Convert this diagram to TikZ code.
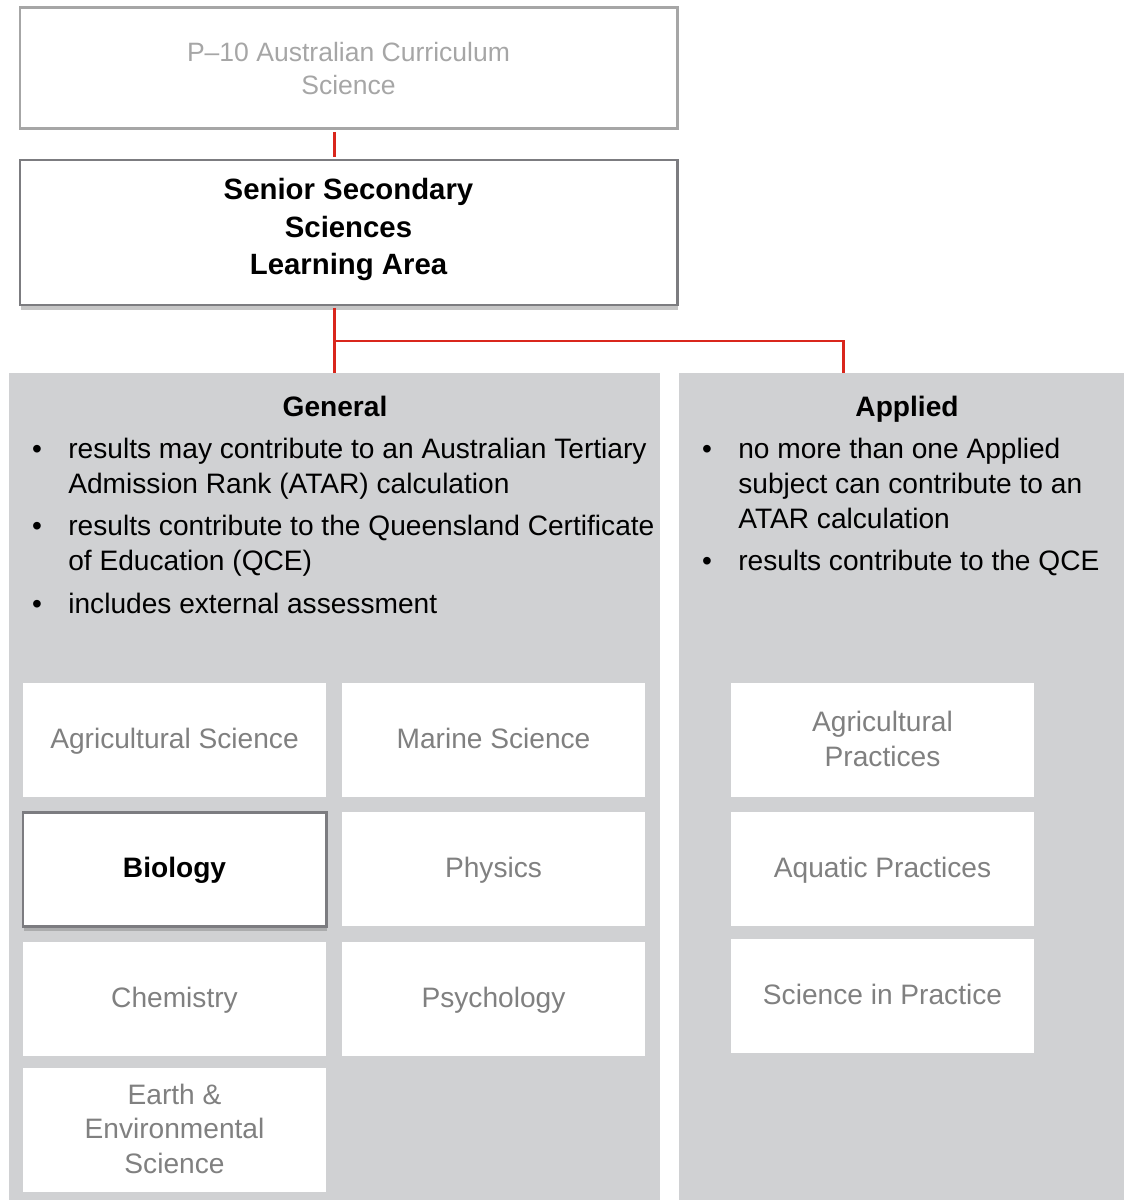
\documentclass[tikz,border=0pt]{standalone}
\usepackage{fontspec}
\setmainfont{Liberation Sans}
\usetikzlibrary{shadows}
\definecolor{qred}{RGB}{217,38,28}
\definecolor{panelgrey}{RGB}{208,209,211}
\definecolor{lightline}{RGB}{166,166,166}
\definecolor{darkline}{RGB}{124,124,128}
\definecolor{subjtext}{RGB}{128,128,128}
\newcommand{\bodyfont}{\fontsize{16}{19.8}\selectfont}
\begin{document}
\begin{tikzpicture}[
		every node/.style={font=\bodyfont, inner sep=0pt},
		box/.style={rectangle, minimum width=13.14cm, align=center, line width=1.7pt},
		panel/.style={rectangle, fill=panelgrey, minimum height=16.54cm, anchor=north},
		subject/.style={rectangle, fill=white, minimum width=6.06cm, minimum height=2.28cm, text=subjtext, align=center, text depth=0.3ex},
		item/.style={anchor=base west, align=left},
		heading/.style={anchor=base, font=\bfseries\bodyfont},
		link/.style={qred, line width=1.7pt},
		shade/.style={drop shadow={shadow xshift=0.4pt, shadow yshift=-3pt, opacity=0.45}}]
			\useasboundingbox (0,0) rectangle (22.48,-24);
			% the two columns
			\node[panel, minimum width=13.02cm] (general) at (6.69,-7.46) {};
			\node[panel, minimum width=8.90cm] (applied) at (18.03,-7.46) {};
			% top of the chart
			\node[box, draw=lightline, text=lightline, minimum height=2.42cm, font=\fontsize{15.1}{19.3}\selectfont] (p10) at (6.97,-1.37) {P–10 Australian Curriculum\\Science};
			\node[box, draw=darkline, fill=white, shade, minimum height=2.9cm, text depth=0.24cm, font=\bfseries\fontsize{16.7}{21.2}\selectfont] (senior) at (6.97,-4.65) {Senior Secondary\\Sciences\\Learning Area};
			\coordinate (split) at (6.69,-6.82);
			\coordinate (branch) at (16.86,-6.82);
			\draw[link, shorten <=0.85pt, shorten >=0.85pt] (p10.south -| general.north) -- (senior.north -| general.north);
			\draw[link, shorten <=0.85pt] (senior.south -| general.north) -- (general.north);
			\draw[link] (split) -| (branch |- applied.north);
			% General (base is the last line)
			\node[heading] (genhead) at (6.70,-8.34) {General};
			\node[item] (g1) at (1.36,-9.86) {results may contribute to an Australian Tertiary\\Admission Rank (ATAR) calculation};
			\node[item] (g2) at (1.36,-11.40) {results contribute to the Queensland Certificate\\of Education (QCE)};
			\node[item] (g3) at (1.36,-12.26) {includes external assessment};
			\foreach \y [count=\i] in {-9.16,-10.70,-12.26}
				\node[anchor=base] (gdot\i) at (0.74,\y) {•};
			% Applied
			\node[heading] (apphead) at (18.14,-8.34) {Applied};
			\node[item] (a1) at (14.76,-10.56) {no more than one Applied\\subject can contribute to an\\ATAR calculation};
			\node[item] (a2) at (14.76,-11.40) {results contribute to the QCE};
			\foreach \y [count=\i] in {-9.16,-11.40}
				\node[anchor=base] (adot\i) at (14.14,\y) {•};
			% subjects
			\node[subject] (agsci) at (3.49,-14.80) {Agricultural Science};
			\node[subject] (marine) at (9.87,-14.80) {Marine Science};
			\node[subject, draw=darkline, line width=1.7pt, shade, text=black, font=\bfseries\bodyfont] (biology) at (3.49,-17.38) {Biology};
			\node[subject] (physics) at (9.87,-17.38) {Physics};
			\node[subject] (chem) at (3.49,-19.97) {Chemistry};
			\node[subject] (psych) at (9.87,-19.97) {Psychology};
			\node[subject, minimum height=2.48cm] (earth) at (3.49,-22.60) {Earth \&\\Environmental\\Science};
			\node[subject] (agprac) at (17.65,-14.80) {Agricultural\\Practices};
			\node[subject] (aquatic) at (17.65,-17.38) {Aquatic Practices};
			\node[subject] (scipractice) at (17.65,-19.91) {Science in Practice};
\end{tikzpicture}
\end{document}
